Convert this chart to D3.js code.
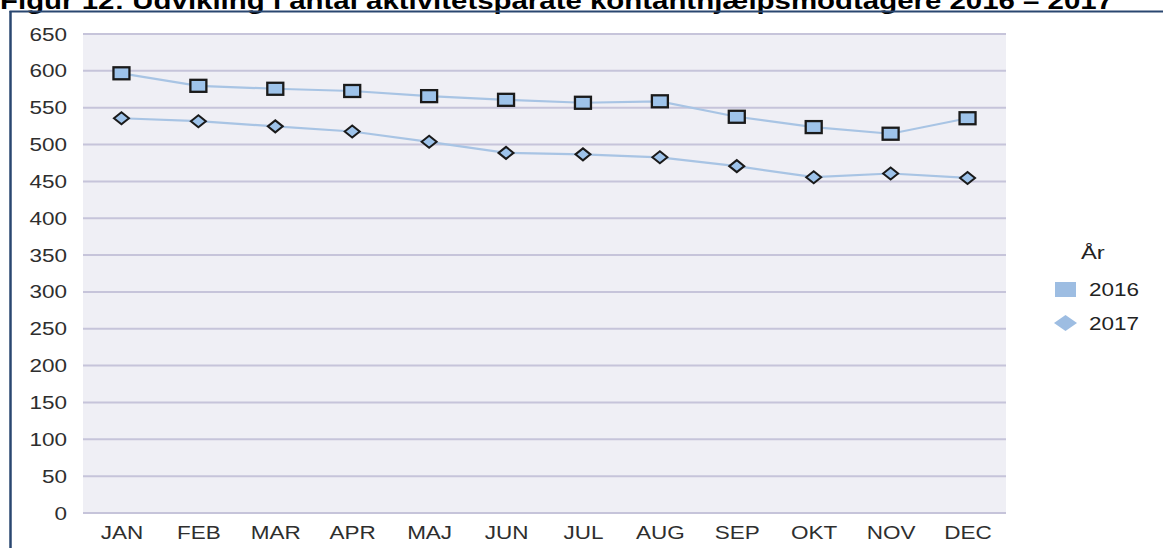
<!DOCTYPE html>
<html>
<head>
<meta charset="utf-8">
<script src="https://cdn.jsdelivr.net/npm/d3@7"></script>
<style>
  html, body { margin: 0; padding: 0; background: #ffffff; }
  svg { display: block; }
  text { font-family: "Liberation Sans", Arial, sans-serif; }
</style>
</head>
<body>
<svg id="chart" width="1163" height="548"></svg>
<script>
const titleText = "Figur 12: Udvikling i antal aktivitetsparate kontanthjælpsmodtagere 2016 – 2017";
const months = ["JAN","FEB","MAR","APR","MAJ","JUN","JUL","AUG","SEP","OKT","NOV","DEC"];
const values2016 = [596, 579, 575, 572, 565, 560, 556, 558, 537, 523, 514, 535];
const values2017 = [535, 531, 524, 517, 503, 488, 486, 482, 470, 455, 460, 454];
const yTicks = [0, 50, 100, 150, 200, 250, 300, 350, 400, 450, 500, 550, 600, 650];
const legendTitle = "År";
const seriesNames = ["2016", "2017"];

const svg = d3.select("#chart");
const SX = 1.25; // horizontal stretch of the original picture

const plot = { left: 83, right: 1006, top: 33.5, bottom: 512.5 };

const x = d3.scalePoint().domain(months).range([plot.left, plot.right]).padding(0.5);
const y = d3.scaleLinear().domain([0, 650]).range([plot.bottom, plot.top]);

// title (partially cut off at top)
svg.append("text")
  .attr("x", 0).attr("y", 8.5)
  .attr("font-size", 23).attr("font-weight", "bold").attr("fill", "#000")
  .attr("textLength", 1113).attr("lengthAdjust", "spacingAndGlyphs")
  .text(titleText);

// frame lines
svg.append("line").attr("x1", 9.5).attr("x2", 1163).attr("y1", 11.5).attr("y2", 11.5)
  .attr("stroke", "#2a4770").attr("stroke-width", 2);
svg.append("line").attr("x1", 10.5).attr("x2", 10.5).attr("y1", 11).attr("y2", 548)
  .attr("stroke", "#2a4770").attr("stroke-width", 2.5);

// plot background
svg.append("rect")
  .attr("x", plot.left).attr("y", plot.top)
  .attr("width", plot.right - plot.left).attr("height", plot.bottom - plot.top)
  .attr("fill", "#efeff5");

// y axis with grid
const yAxis = d3.axisLeft(y).tickValues(yTicks).tickSize(-(plot.right - plot.left)).tickPadding(16);
const gy = svg.append("g").attr("transform", `translate(${plot.left},0)`).call(yAxis);
gy.select(".domain").remove();
gy.selectAll(".tick line").attr("stroke", "#c6c4da").attr("stroke-width", 2);
gy.selectAll(".tick text").each(function() {
  d3.select(this)
   .attr("dy", null).attr("y", 0).attr("x", 0)
   .attr("transform", `translate(-16,6.5) scale(${SX},1)`)
   .attr("text-anchor", "end")
   .attr("font-size", 18).attr("fill", "#2e2e2e")
   .attr("font-family", "'Liberation Sans', Arial, sans-serif");
});
gy.attr("font-size", null).attr("font-family", null);

// x axis
const xAxis = d3.axisBottom(x).tickSize(0).tickPadding(0);
const gx = svg.append("g").attr("transform", `translate(0,${plot.bottom})`).call(xAxis);
gx.select(".domain").remove();
gx.selectAll(".tick text").each(function() {
  d3.select(this).attr("dy", null).attr("y", 0)
    .attr("transform", `translate(0,26.5) scale(${SX},1)`)
    .attr("text-anchor", "middle").attr("font-size", 18).attr("fill", "#2e2e2e")
    .attr("font-family", "'Liberation Sans', Arial, sans-serif");
});
gx.attr("font-size", null).attr("font-family", null);

// lines
const line = d3.line().x((d, i) => x(months[i])).y(d => y(d));
[values2016, values2017].forEach(vals => {
  svg.append("path").datum(vals).attr("d", line)
    .attr("fill", "none").attr("stroke", "#a8c4e4").attr("stroke-width", 2.2);
});

const markFill = "#9ec3ea";
const markStroke = "#1a1a1a";

// 2016 squares
svg.append("g").selectAll("rect").data(values2016).join("rect")
  .attr("x", (d, i) => x(months[i]) - 8).attr("y", d => y(d) - 6)
  .attr("width", 16).attr("height", 12)
  .attr("fill", markFill).attr("stroke", markStroke).attr("stroke-width", 2.3);

// 2017 diamonds
svg.append("g").selectAll("path").data(values2017).join("path")
  .attr("d", (d, i) => {
    const cx = x(months[i]), cy = y(d);
    return `M${cx - 7.5},${cy} L${cx},${cy - 6} L${cx + 7.5},${cy} L${cx},${cy + 6} Z`;
  })
  .attr("fill", markFill).attr("stroke", markStroke).attr("stroke-width", 2);

// legend
const lg = svg.append("g");
lg.append("text").attr("transform", `translate(1081,259) scale(${SX},1)`)
  .attr("font-size", 19).attr("fill", "#222").text(legendTitle);
lg.append("rect").attr("x", 1055).attr("y", 282).attr("width", 21).attr("height", 15)
  .attr("fill", "#9dbde2");
lg.append("path").attr("d", "M1054,323 L1065.5,315 L1077,323 L1065.5,331 Z")
  .attr("fill", "#9dbde2");
lg.append("text").attr("transform", `translate(1089,296) scale(${SX},1)`)
  .attr("font-size", 18).attr("fill", "#222").text(seriesNames[0]);
lg.append("text").attr("transform", `translate(1089,330) scale(${SX},1)`)
  .attr("font-size", 18).attr("fill", "#222").text(seriesNames[1]);
</script>
</body>
</html>
